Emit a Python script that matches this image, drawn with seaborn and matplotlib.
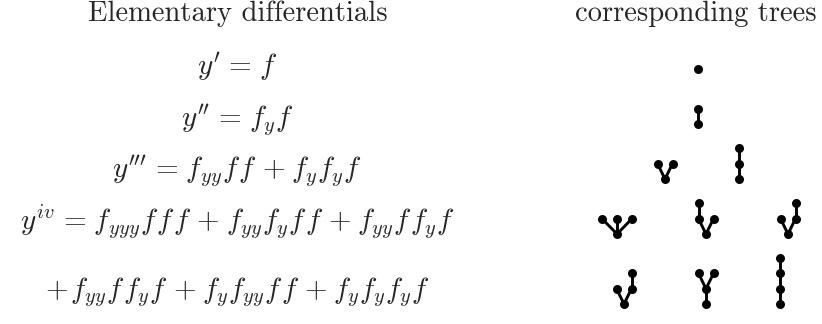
import re
import matplotlib
matplotlib.use("Agg")
import matplotlib.pyplot as plt
import seaborn as sns
import pandas as pd

# Left column: elementary differentials (one string per row)
HEADINGS = ["Elementary differentials", "corresponding trees"]
EQUATIONS = [
    r"y' = f",
    r"y'' = f_y f",
    r"y''' = f_{yy} f f + f_y f_y f",
    r"y^{iv} = f_{yyy} f f f + f_{yy} f_y f f + f_{yy} f f_y f",
    r"+f_{yy} f f_y f + f_y f_{yy} f f + f_y f_y f_y f",
]

# Right column: trees as parent lists (node 0 is the root), grouped by row
TREE_ROWS = [
    [[None]],
    [[None, 0]],
    [[None, 0, 0], [None, 0, 1]],
    [[None, 0, 0, 0], [None, 0, 0, 1], [None, 0, 0, 2]],
    [[None, 0, 0, 2], [None, 0, 1, 1], [None, 0, 1, 2]],
]

# layout (pixels)
W, H = 822, 324
ROW_Y = [69, 121, 172, 223, 292]
EQ_X = 237
HEAD_X = [238, 696]
HEAD_W = [300, 242]
EQ_SIZE = 21
TREE_COLS = [[698], [698], [665, 739], [617, 706, 788], [624, 706, 780]]
ROOT_Y = [69, 124, 179, 234, 304]
DX, DY = 7.5, 15.3


def to_math(eq):
    # TeX-like spacing: italic correction after a bare f, wider = and +
    s = re.sub(r"f(?!_)", r"f\\hspace{0.1}", eq)
    s = s.replace(" = ", r"\hspace{0.12}=\hspace{0.12}")
    s = s.replace(" + ", r"\hspace{0.05}+\hspace{0.05}")
    if s.startswith("+"):
        s = "+" + r"\hspace{0.12}" + s[1:]
    return "$" + s.replace(" ", "") + "$"


def layout_tree(parents):
    """Place nodes: children spread around their parent, one level up."""
    n = len(parents)
    kids = {i: [j for j in range(n) if parents[j] == i] for i in range(n)}
    pos = {0: (0.0, 0)}
    stack = [0]
    while stack:
        p = stack.pop()
        k = len(kids[p])
        for i, c in enumerate(kids[p]):
            pos[c] = (pos[p][0] + (i - (k - 1) / 2) * 2, pos[p][1] + 1)
            stack.append(c)
    return pos


def fit_width(txt, target, renderer):
    w = txt.get_window_extent(renderer).width
    txt.set_fontsize(txt.get_fontsize() * target / w)


nodes, edges = [], []
eid = 0
for r, row in enumerate(TREE_ROWS):
    for c, parents in enumerate(row):
        pos = layout_tree(parents)
        x0, y0 = TREE_COLS[r][c], ROOT_Y[r]
        xy = {k: (x0 + v[0] * DX, y0 - v[1] * DY) for k, v in pos.items()}
        for k, (x, y) in xy.items():
            nodes.append({"x": x, "y": y})
            if parents[k] is not None:
                px, py = xy[parents[k]]
                edges.append({"x": px, "y": py, "edge": eid})
                edges.append({"x": x, "y": y, "edge": eid})
                eid += 1

df_nodes = pd.DataFrame(nodes)
df_edges = pd.DataFrame(edges)

sns.set_theme(style="white")
plt.rcParams["mathtext.fontset"] = "cm"

fig = plt.figure(figsize=(W / 100, H / 100), dpi=100)
ax = fig.add_axes([0, 0, 1, 1])

sns.lineplot(data=df_edges, x="x", y="y", units="edge", estimator=None,
             sort=False, color="black", linewidth=2.1, ax=ax, legend=False)
sns.scatterplot(data=df_nodes, x="x", y="y", color="black", s=42,
                edgecolor="black", linewidth=0, ax=ax, legend=False, zorder=3)

ax.set_xlim(0, W)
ax.set_ylim(H, 0)
ax.axis("off")

renderer = fig.canvas.get_renderer()
for x, w, head in zip(HEAD_X, HEAD_W, HEADINGS):
    t = ax.text(x, 21, head, family="cmr10", fontsize=18,
                ha="center", va="baseline")
    fit_width(t, w, renderer)

for y, eq in zip(ROW_Y, EQUATIONS):
    ax.text(EQ_X, y + 6, to_math(eq), fontsize=EQ_SIZE, ha="center",
            va="baseline")

plt.savefig("out.png", dpi=100)
